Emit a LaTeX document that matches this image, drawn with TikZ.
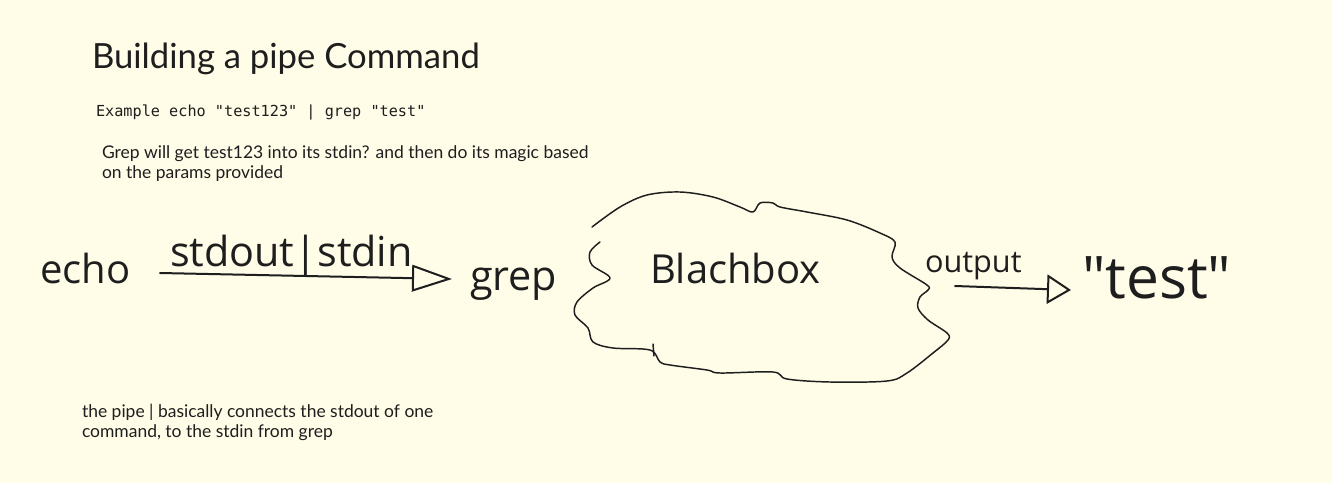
\documentclass[tikz,border=0pt]{standalone}
\usepackage{fontspec}
\setmainfont{Lato}
\setmonofont{DejaVu Sans Mono}
\newfontfamily\handfont{Open Sans}
\usepackage{xcolor}
\usepackage{tikz}
\usetikzlibrary{arrows.meta, positioning}
\definecolor{paper}{HTML}{FFFCE8}
\definecolor{ink}{HTML}{1E1E1E}

\begin{document}
\begin{tikzpicture}[
    x=0.75pt, y=-0.75pt,
    every node/.style={inner sep=0pt, outer sep=0pt, text=ink},
    title/.style={anchor=base west, font=\fontsize{26}{31}\selectfont},
    code/.style={anchor=base west, font=\ttfamily\fontsize{11.4}{14}\selectfont},
    note/.style={anchor=north west, align=left, font=\fontsize{13.1}{15}\selectfont},
    hand/.style={anchor=base west, font=\handfont\fontsize{28}{30}\selectfont},
    inkline/.style={draw=ink, line width=1.1pt, line cap=round, line join=round},
    arrow/.style={draw=ink, line width=1.5pt, line cap=round,
        -{Triangle[open, length=30pt, width=20pt, line width=1.5pt]}}
]

% Paper
\fill[paper] (0,0) rectangle (1332,483);
\useasboundingbox (0,0) rectangle (1332,483);

% Typed text
\node[title] (title) at (92,68) {Building a pipe Command};
\node[code] (example) at (96,116) {Example echo "test123" | grep "test"};
\node[note] (magic) at (102,146) {Grep will get test123 into its stdin? and then do its magic based\\on the params provided};
\node[note] (pipenote) at (82,404) {the pipe | basically connects the stdout of one\\command, to the stdin from grep};

% Hand drawn commands
\node[hand, font=\handfont\fontsize{30}{32}\selectfont] (echo) at (40,283) {echo};
\node[hand, font=\handfont\fontsize{31}{33}\selectfont] (grep) at (470,290) {grep};
\node[hand, font=\handfont\fontsize{31}{33}\selectfont] (streams) at (170,266) {stdout|stdin};
\node[hand, font=\handfont\fontsize{30}{32}\selectfont] (blackbox) at (650,283) {Blachbox};
\node[hand, font=\handfont\fontsize{23}{25}\selectfont] (output) at (925,272) {output};
\node[hand, font=\handfont\fontsize{44}{46}\selectfont] (result) at (1082,298) {\textquotedbl test\textquotedbl};

% Pipe arrows
\coordinate (pipe start) at (160,273);
\coordinate (pipe end) at (452,279);
\draw[arrow] (pipe start) -- (pipe end);
\coordinate (out start) at (955,286);
\coordinate (out end) at (1071,290);
\draw[arrow, -{Triangle[open, length=18pt, width=22pt, line width=1.5pt]}] (out start) -- (out end);

% Black box cloud
\draw[inkline] plot[smooth, tension=0.55] coordinates {
    (600,242) (590,252) (592,265) (610,278) (593,288) (577,302) (575,315)
    (588,328) (593,342) (613,348) (650,350) (660,362) (670,365) (707,370)
    (720,373) (773,372) (787,379) (830,382) (887,381) (907,373) (933,353)
    (948,340) (947,333) (928,320) (918,308) (920,297) (928,290) (927,285)
    (900,268) (892,257) (895,242) (880,233) (847,220) (807,212) (780,207)
    (773,203) (760,203) (753,212) (740,207) (713,197) (680,192) (647,195)
    (620,207) (592,227)};
\draw[inkline] (653,344) -- (654,356);

\end{tikzpicture}
\end{document}
